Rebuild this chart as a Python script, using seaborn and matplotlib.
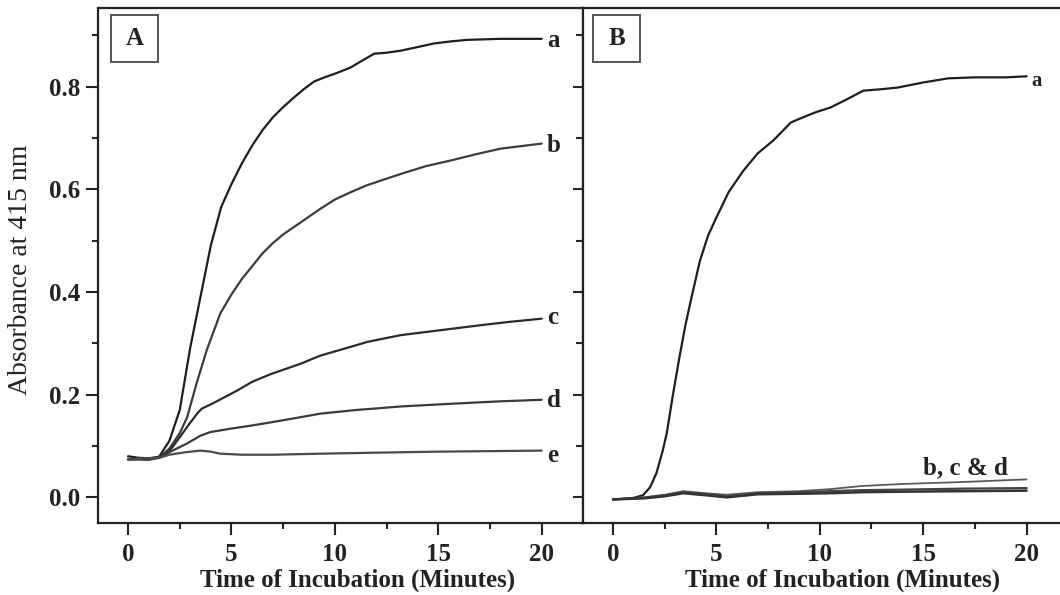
import numpy as np
import pandas as pd
import matplotlib
matplotlib.use("Agg")
import matplotlib.pyplot as plt
from matplotlib.patches import Rectangle
from matplotlib.ticker import MultipleLocator
import seaborn as sns

# ----------------------------- DATA (Panel A) -----------------------------
a_time = [0, 0.5, 1.0, 1.5, 2.0, 2.5, 3.0, 3.5, 4.0, 4.5, 5.0, 5.5, 6.0, 6.5, 7.0,
          7.5, 8.0, 8.5, 9.0, 9.5, 10.0, 10.75, 11.3, 11.9, 12.5, 13.2, 14.0, 14.8,
          15.6, 16.4, 18.0, 20.0]
a_abs = [0.080, 0.077, 0.076, 0.079, 0.110, 0.170, 0.290, 0.390, 0.490, 0.565, 0.610,
         0.650, 0.685, 0.715, 0.740, 0.760, 0.778, 0.795, 0.810, 0.818, 0.825, 0.837,
         0.850, 0.864, 0.866, 0.870, 0.877, 0.884, 0.888, 0.891, 0.893, 0.893]

b_time = [0, 1.0, 1.5, 2.0, 2.5, 2.86, 3.3, 3.8, 4.46, 5.0, 5.5, 6.0, 6.5, 7.0, 7.5,
          8.33, 9.3, 10.0, 10.75, 11.5, 12.3, 13.2, 14.4, 15.6, 16.8, 18.0, 19.0, 20.0]
b_abs = [0.074, 0.073, 0.077, 0.095, 0.125, 0.156, 0.220, 0.286, 0.358, 0.395, 0.425,
         0.450, 0.475, 0.495, 0.512, 0.535, 0.562, 0.580, 0.594, 0.607, 0.618, 0.630,
         0.645, 0.656, 0.668, 0.679, 0.684, 0.689]

c_time = [0, 1.5, 2.0, 2.5, 3.0, 3.4, 3.58, 4.1, 5.28, 6.0, 6.9, 8.33, 9.3, 10.5,
          11.6, 13.2, 14.8, 16.0, 17.2, 18.5, 20.0]
c_abs = [0.074, 0.077, 0.090, 0.117, 0.145, 0.166, 0.173, 0.183, 0.208, 0.225, 0.240,
         0.260, 0.276, 0.290, 0.303, 0.316, 0.324, 0.330, 0.336, 0.342, 0.348]

d_time = [0, 1.5, 2.0, 2.86, 3.5, 3.97, 5.0, 6.0, 6.9, 8.33, 9.3, 11.0, 13.2, 15.5,
          18.0, 20.0]
d_abs = [0.074, 0.077, 0.088, 0.105, 0.120, 0.127, 0.134, 0.140, 0.146, 0.156, 0.163,
         0.170, 0.177, 0.182, 0.187, 0.190]

e_time = [0, 1.5, 2.0, 2.8, 3.5, 4.0, 4.46, 5.5, 7.0, 9.3, 12.0, 15.0, 20.0]
e_abs = [0.074, 0.077, 0.083, 0.088, 0.091, 0.089, 0.085, 0.083, 0.083, 0.085, 0.087,
         0.089, 0.091]

# ----------------------------- DATA (Panel B) -----------------------------
ba_time = [0, 0.5, 1.0, 1.45, 1.8, 2.1, 2.4, 2.6, 2.9, 3.2, 3.5, 3.8, 4.2, 4.6, 5.0,
           5.6, 6.3, 7.0, 7.75, 8.6, 9.06, 9.8, 10.5, 11.3, 12.1, 13.0, 13.75, 15.0,
           16.2, 17.5, 19.0, 20.0]
ba_abs = [-0.004, -0.003, -0.001, 0.004, 0.020, 0.047, 0.090, 0.125, 0.200, 0.270,
          0.335, 0.390, 0.460, 0.510, 0.545, 0.595, 0.636, 0.670, 0.695, 0.730, 0.738,
          0.750, 0.759, 0.775, 0.792, 0.795, 0.798, 0.808, 0.816, 0.818, 0.818, 0.820]

low_time = [0, 1.5, 2.5, 3.4, 4.5, 5.5, 7.0, 9.0, 10.5, 12.0, 14.0, 17.0, 20.0]
bb_abs = [-0.004, 0.000, 0.005, 0.012, 0.008, 0.005, 0.010, 0.012, 0.016, 0.022, 0.026,
          0.030, 0.035]
bc_abs = [-0.004, -0.001, 0.004, 0.010, 0.006, 0.002, 0.008, 0.010, 0.012, 0.014, 0.015,
          0.017, 0.018]
bd_abs = [-0.004, -0.002, 0.002, 0.008, 0.004, 0.000, 0.006, 0.007, 0.008, 0.010, 0.011,
          0.012, 0.013]

# ----------------------------- STYLE -----------------------------
sns.set_style("ticks")
plt.rcParams["font.family"] = ["Liberation Serif", "DejaVu Serif"]
plt.rcParams["font.weight"] = "bold"

FS = 18
XMIN, XMAX = -1.45, 22.0
YMIN, YMAX = -0.05, 0.953


def style_axis(ax, show_ylabels=True):
    ax.set_xlim(XMIN, XMAX)
    ax.set_ylim(YMIN, YMAX)
    ax.xaxis.set_major_locator(MultipleLocator(5))
    ax.xaxis.set_minor_locator(MultipleLocator(2.5))
    ax.yaxis.set_major_locator(MultipleLocator(0.2))
    ax.yaxis.set_minor_locator(MultipleLocator(0.1))
    for sp in ax.spines.values():
        sp.set_visible(True)
        sp.set_linewidth(1.6)
        sp.set_color("#222222")
    ax.tick_params(axis="x", which="major", length=8.5, width=1.5, pad=6,
                   labelsize=FS, colors="#222222")
    ax.tick_params(axis="x", which="minor", length=4.5, width=1.5)
    if show_ylabels:
        ax.tick_params(axis="y", which="major", length=8.5, width=1.5, pad=4,
                       labelsize=FS, colors="#222222")
        ax.tick_params(axis="y", which="minor", length=4.5, width=1.5)
    else:
        # ticks of the shared border point into panel A
        ax.tick_params(axis="y", which="major", length=7, width=1.5, labelleft=False)
        ax.tick_params(axis="y", which="minor", length=5, width=1.5)
    ax.yaxis.set_major_formatter(matplotlib.ticker.FormatStrFormatter("%.1f"))
    ax.set_xlabel("Time of Incubation (Minutes)", fontsize=FS, fontweight="bold",
                  color="#222222")
    ax.xaxis.label.set_va("center")
    ax.xaxis.set_label_coords(0.535, -0.112)
    ax.set_ylabel("")


def panel_box(ax, letter, x0):
    ax.add_patch(Rectangle((x0, 0.895), 0.097, 0.0914, transform=ax.transAxes,
                           fill=False, ec="#555555", lw=1.4, zorder=5))
    ax.text(x0 + 0.0485, 0.9407, letter, transform=ax.transAxes, ha="center",
            va="center", fontsize=FS, fontweight="bold", color="#222222")


# ----------------------------- PLOT -----------------------------
def main():
    fig = plt.figure(figsize=(10.6, 5.95), dpi=100)
    ax_a = fig.add_axes([0.0925, 0.121, 0.4575, 0.8655])
    ax_b = fig.add_axes([0.55, 0.121, 0.4575, 0.8655])

    panel_a = [(a_time, a_abs, "a", "#1e1e1e", 0.890),
               (b_time, b_abs, "b", "#3c3c3c", 0.685),
               (c_time, c_abs, "c", "#2a2a2a", 0.350),
               (d_time, d_abs, "d", "#3a3a3a", 0.189),
               (e_time, e_abs, "e", "#4a4a4a", 0.082)]
    for t, v, name, col, ly in panel_a:
        sns.lineplot(x=t, y=v, ax=ax_a, color=col, lw=1.6)
        ax_a.text(20.25, ly, name, ha="left", va="center", fontsize=FS,
                  fontweight="bold", color="#222222")

    sns.lineplot(x=ba_time, y=ba_abs, ax=ax_b, color="#1e1e1e", lw=1.6)
    ax_b.text(20.25, 0.81, "a", ha="left", va="center", fontsize=FS - 3,
              fontweight="bold", color="#222222")
    for v, col, lw in [(bb_abs, "#5a5a5a", 1.3), (bc_abs, "#444444", 1.6),
                       (bd_abs, "#333333", 1.8)]:
        sns.lineplot(x=low_time, y=v, ax=ax_b, color=col, lw=lw)
    ax_b.text(17.05, 0.058, "b, c & d", ha="center", va="center", fontsize=FS,
              fontweight="bold", color="#222222")

    style_axis(ax_a, show_ylabels=True)
    style_axis(ax_b, show_ylabels=False)

    ax_a.set_ylabel("Absorbance at 415 nm", fontsize=20, fontweight="normal",
                    color="#222222")
    ax_a.yaxis.label.set_va("center")
    ax_a.yaxis.set_label_coords(-0.159, 0.491)

    panel_box(ax_a, "A", 0.0268)
    panel_box(ax_b, "B", 0.0206)

    fig.savefig("out.png", dpi=100, facecolor="white")


if __name__ == "__main__":
    main()
